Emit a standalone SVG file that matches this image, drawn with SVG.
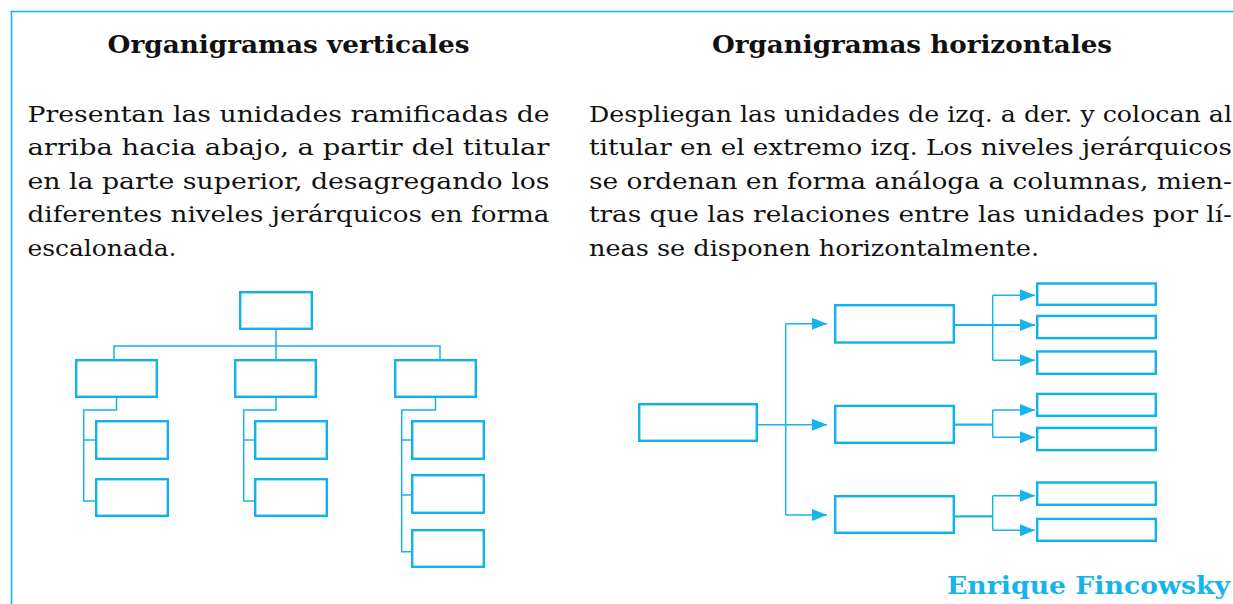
<svg xmlns="http://www.w3.org/2000/svg" width="1233" height="604" viewBox="0 0 1233 604">
<style>
  .frame{stroke:#16b4ea;stroke-width:1.6;fill:none}
  .box{fill:#fff;stroke:#0fb2ea;stroke-width:2.4}
  .conn{fill:none;stroke:#16b4ea;stroke-width:1.5}
  .thick{stroke-width:2.2}
  .title{font-family:"DejaVu Serif","Liberation Serif",serif;font-weight:bold;font-size:24px;fill:#111}
  .body{font-family:"DejaVu Serif","Liberation Serif",serif;font-size:23px;fill:#111}
  .author{font-family:"DejaVu Serif","Liberation Serif",serif;font-weight:bold;font-size:25px;fill:#16b4ea}
</style>
<defs>
  <marker id="arr" markerUnits="userSpaceOnUse" markerWidth="15" markerHeight="12" refX="15" refY="6" orient="auto">
    <path d="M0,0 L15,6 L0,12 z" fill="#16b4ea"/>
  </marker>
</defs>
<rect width="1233" height="604" fill="#fff"/>
<path class="frame" d="M11.5,604 V11.5 H1233"/>

<g id="texts">
  <text class="title" x="107.5" y="52.5" textLength="362" lengthAdjust="spacingAndGlyphs">Organigramas verticales</text>
  <text class="title" x="712" y="52.5" textLength="400" lengthAdjust="spacingAndGlyphs">Organigramas horizontales</text>
  <text class="body" x="27.5" y="121.5" textLength="522" lengthAdjust="spacingAndGlyphs">Presentan las unidades ramificadas de</text>
  <text class="body" x="27.5" y="155" textLength="522" lengthAdjust="spacingAndGlyphs">arriba hacia abajo, a partir del titular</text>
  <text class="body" x="27.5" y="188.5" textLength="522" lengthAdjust="spacingAndGlyphs">en la parte superior, desagregando los</text>
  <text class="body" x="27.5" y="222" textLength="522" lengthAdjust="spacingAndGlyphs">diferentes niveles jerárquicos en forma</text>
  <text class="body" x="27.5" y="255.5" textLength="149" lengthAdjust="spacingAndGlyphs">escalonada.</text>
  <text class="body" x="589" y="121.5" textLength="643" lengthAdjust="spacingAndGlyphs">Despliegan las unidades de izq. a der. y colocan al</text>
  <text class="body" x="589" y="155" textLength="643" lengthAdjust="spacingAndGlyphs">titular en el extremo izq. Los niveles jerárquicos</text>
  <text class="body" x="589" y="188.5" textLength="643" lengthAdjust="spacingAndGlyphs">se ordenan en forma análoga a columnas, mien-</text>
  <text class="body" x="589" y="222" textLength="643" lengthAdjust="spacingAndGlyphs">tras que las relaciones entre las unidades por lí-</text>
  <text class="body" x="589" y="255.5" textLength="450" lengthAdjust="spacingAndGlyphs">neas se disponen horizontalmente.</text>
  <text class="author" x="947" y="594" textLength="283" lengthAdjust="spacingAndGlyphs">Enrique Fincowsky</text>
</g>

<g id="connectors">
  <!-- vertical organigram -->
  <path class="conn" d="M276,330 V346 M114,359 V346 H440 V359 M276,346 V359"/>
  <path class="conn" d="M116.5,398 V410 H83.7 V501 H95 M83.7,440 H95"/>
  <path class="conn" d="M276,398 V410 H243.7 V501 H254 M243.7,440 H254"/>
  <path class="conn" d="M435.5,398 V410 H401.7 V551.7 H411 M401.7,440 H411 M401.7,495 H411"/>
  <!-- horizontal organigram -->
  <path class="conn" d="M785.7,323.7 V515"/>
  <path class="conn" d="M758,424.7 H827" marker-end="url(#arr)"/>
  <path class="conn" d="M785.7,323.7 H827" marker-end="url(#arr)"/>
  <path class="conn" d="M785.7,515 H827" marker-end="url(#arr)"/>
  <path class="conn" d="M992.7,295.3 V360.3"/>
  <path class="conn thick" d="M955,325 H1035" marker-end="url(#arr)"/>
  <path class="conn" d="M992.7,295.3 H1035" marker-end="url(#arr)"/>
  <path class="conn" d="M992.7,360.3 H1035" marker-end="url(#arr)"/>
  <path class="conn thick" d="M955,424.7 H992.7"/>
  <path class="conn" d="M992.7,410 V437.3"/>
  <path class="conn" d="M992.7,410 H1035" marker-end="url(#arr)"/>
  <path class="conn" d="M992.7,437.3 H1035" marker-end="url(#arr)"/>
  <path class="conn thick" d="M955,516.3 H992.7"/>
  <path class="conn" d="M992.7,495.7 V530.3"/>
  <path class="conn" d="M992.7,495.7 H1035" marker-end="url(#arr)"/>
  <path class="conn" d="M992.7,530.3 H1035" marker-end="url(#arr)"/>
</g>

<!-- vertical organigram nodes -->
<g id="v-top"><rect class="box" x="240.2" y="292.2" width="71.6" height="36.6"/></g>
<g id="v-a"><rect class="box" x="76.2" y="360.2" width="80.6" height="36.6"/></g>
<g id="v-b"><rect class="box" x="235.2" y="360.2" width="80.6" height="36.6"/></g>
<g id="v-c"><rect class="box" x="395.2" y="360.2" width="80.6" height="36.6"/></g>
<g id="v-a1"><rect class="box" x="96.2" y="421.2" width="71.6" height="37.6"/></g>
<g id="v-a2"><rect class="box" x="96.2" y="479.2" width="71.6" height="36.6"/></g>
<g id="v-b1"><rect class="box" x="255.2" y="421.2" width="71.6" height="37.6"/></g>
<g id="v-b2"><rect class="box" x="255.2" y="479.2" width="71.6" height="36.6"/></g>
<g id="v-c1"><rect class="box" x="412.2" y="421.2" width="71.6" height="37.6"/></g>
<g id="v-c2"><rect class="box" x="412.2" y="475.2" width="71.6" height="37.6"/></g>
<g id="v-c3"><rect class="box" x="412.2" y="530.2" width="71.6" height="36.6"/></g>

<!-- horizontal organigram nodes -->
<g id="h-root"><rect class="box" x="639.2" y="404.2" width="117.6" height="36.6"/></g>
<g id="h-a"><rect class="box" x="835.2" y="305.2" width="118.6" height="37.3"/></g>
<g id="h-b"><rect class="box" x="835.2" y="405.9" width="118.6" height="36.9"/></g>
<g id="h-c"><rect class="box" x="835.2" y="496.2" width="118.6" height="36.6"/></g>
<g id="h-a1"><rect class="box" x="1037.2" y="283.5" width="118.6" height="21.3"/></g>
<g id="h-a2"><rect class="box" x="1037.2" y="315.9" width="118.6" height="22.2"/></g>
<g id="h-a3"><rect class="box" x="1037.2" y="351.5" width="118.6" height="22.3"/></g>
<g id="h-b1"><rect class="box" x="1037.2" y="393.9" width="118.6" height="21.9"/></g>
<g id="h-b2"><rect class="box" x="1037.2" y="427.9" width="118.6" height="22.2"/></g>
<g id="h-c1"><rect class="box" x="1037.2" y="482.5" width="118.6" height="22.3"/></g>
<g id="h-c2"><rect class="box" x="1037.2" y="518.9" width="118.6" height="21.9"/></g>
</svg>
